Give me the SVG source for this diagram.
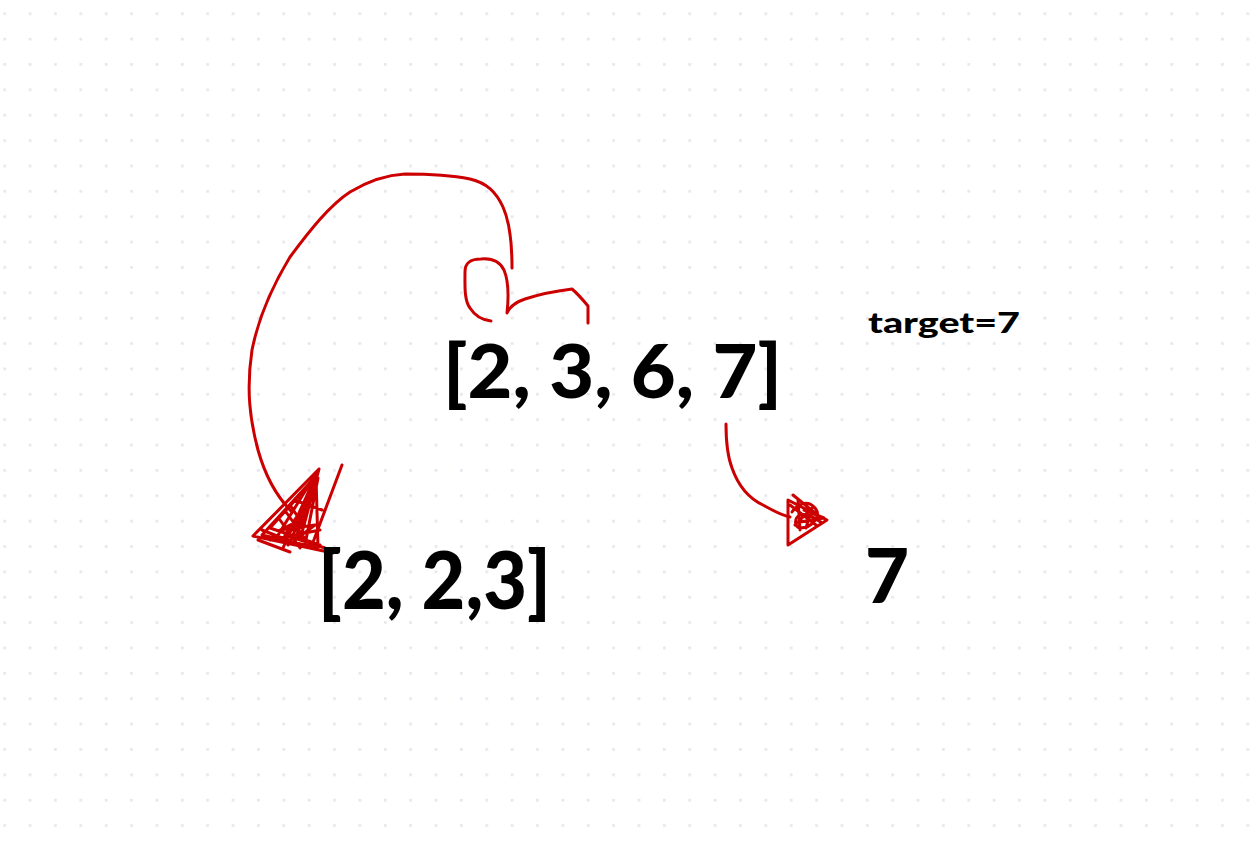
<svg xmlns="http://www.w3.org/2000/svg" width="1250" height="848" viewBox="0 0 1250 848">
<defs>
<pattern id="dots" patternUnits="userSpaceOnUse" x="3.35" y="12.35" width="25.37" height="25.37">
<rect x="0" y="0" width="2.7" height="2.7" fill="#e6e6ee"/>
</pattern>
<style>
.t{font-family:Lato,"Open Sans","Liberation Sans",sans-serif;font-weight:900;fill:#000}
.r{fill:none;stroke:#cc0000;stroke-width:3;stroke-linecap:round;stroke-linejoin:round}
.rs{fill:none;stroke:#cc0000;stroke-width:3;stroke-linecap:round;stroke-linejoin:round}
</style>
</defs>
<rect width="1250" height="848" fill="#ffffff"/>
<rect width="1250" height="848" fill="url(#dots)"/>

<g id="connectors">
<path class="r" d="M512,268 C512,250 511,225 503,207 C496,192 487,183 470,179 C450,175 425,174 405,174 C385,175 365,183 350,192 C330,205 310,230 290,257 C270,290 258,320 252,350 C246,390 250,420 258,450 C265,475 275,495 292,512"/>
<path class="r" d="M491,321 C482,320 475,316 470,308 C464,300 465,285 465,272 C465,262 471,259 481,259 C492,258 500,262 504,270 C509,282 509,295 507,313 C510,306 516,302 525,299 C540,294 556,291 572,289 C578,294 583,300 588,306 C588,312 588,317 588,323"/>
<path class="rs" d="M319,469 L253,536 L333,553 M319,469 L300,540 M319,469 L283,548 M316,476 L262,535 L318,548 Z M312,480 L275,540 M308,486 L270,528 L320,545 M318,478 L305,545 M314,490 L285,535 L325,548 M342,465 L312,545 M290,505 L300,520 L280,530 L315,525 L295,540 L310,500 L288,545 M258,540 L290,552 M262,530 L300,545 M317,472 L292,530 L309,495 L296,538 L313,485 L302,528 M286,512 L306,540 M280,520 L300,548 M294,500 L322,510 M270,540 L320,530"/>
<path class="r" d="M726,424 C726,440 727,455 732,468 C738,485 748,498 763,505 C772,510 780,515 790,517"/>
<path class="rs" d="M788,500 L788,545 L827,520 Z M793,495 L820,517 M792,512 C798,503 808,500 815,508 C822,516 812,528 800,528 C794,526 794,518 800,515 C808,512 818,520 822,523 M795,525 L812,508 L806,528 M790,505 L816,525 M798,500 L800,530 M804,510 L824,518 L800,522"/>
</g>

<g id="node-array">
<text class="t" x="443" y="398" font-size="74" textLength="339" lengthAdjust="spacingAndGlyphs">[2, 3, 6, 7]</text>
</g>
<g id="node-target">
<text class="t" x="868" y="333" font-size="28" textLength="152" lengthAdjust="spacingAndGlyphs">target=7</text>
</g>
<g id="node-combo">
<text class="t" x="318" y="609" font-size="80" textLength="233" lengthAdjust="spacingAndGlyphs">[2, 2,3]</text>
</g>
<g id="node-seven">
<text class="t" x="865" y="603" font-size="76">7</text>
</g>
</svg>
